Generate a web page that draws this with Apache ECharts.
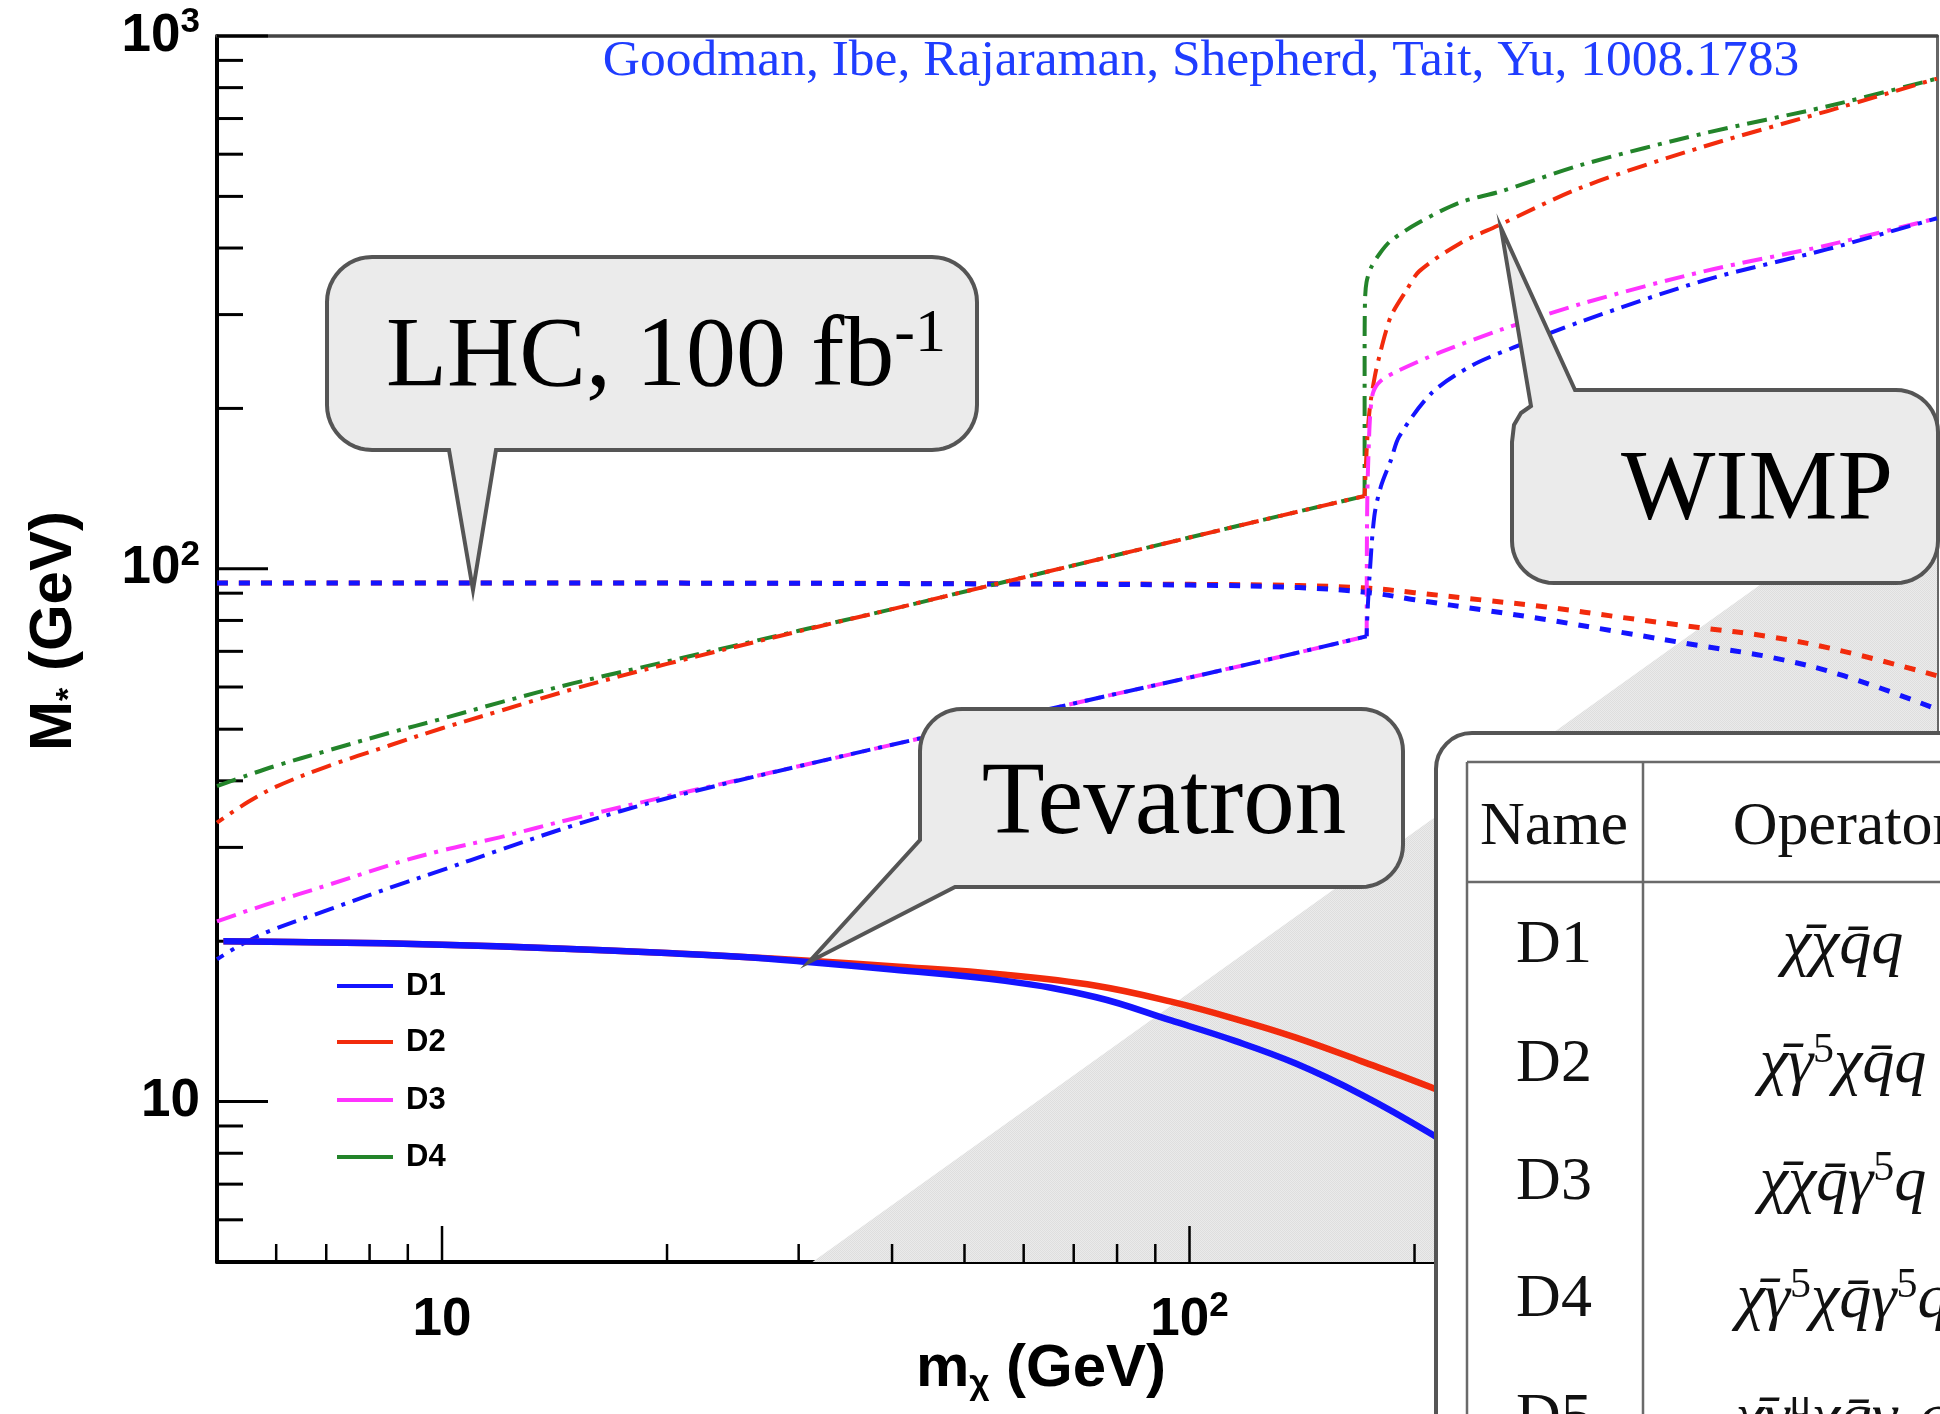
<!DOCTYPE html>
<html><head><meta charset="utf-8">
<script src="https://cdn.jsdelivr.net/npm/echarts@6/dist/echarts.min.js"></script>
<style>html,body{margin:0;padding:0;background:#fff;}#c{width:1940px;height:1414px;}</style>
</head><body><div id="c"></div>
<script>
// ---------------- data (m_chi in GeV, M* in GeV) ----------------
const X_MIN = 5, X_MAX = 1000, Y_MIN = 5, Y_MAX = 1000;

const ticksXMajor = [10, 100, 1000];
const ticksXMinor = [6,7,8,9,20,30,40,50,60,70,80,90,200,300,400,500,600,700,800,900];
const ticksYMajor = [10, 100, 1000];
const ticksYMinor = [6,7,8,9,20,30,40,50,60,70,80,90,200,300,400,500,600,700,800,900];
const tickLabelValues = [10, 100, 1000];
const tickLabelTexts = ['{b|10}', '{b|10}{s|2}', '{b|10}{s|3}'];

// EFT validity boundary (shaded region below)
const eftM = [31.3, 1000];
const eftMstar = [5, 161];

// Tevatron (solid)
const tevM = [5.1, 7, 10, 14, 20, 25, 30.6, 40, 56.7, 75, 94.5, 115, 138.5, 170, 209.6, 260];
const tevD1 = [20.0, 19.9, 19.7, 19.4, 19.0, 18.7, 18.3, 17.7, 16.85, 15.7, 14.2, 13.0, 11.8, 10.3, 8.73, 7.2];
const tevD2 = [20.0, 19.9, 19.7, 19.4, 19.0, 18.7, 18.4, 17.95, 17.3, 16.5, 15.4, 14.3, 13.2, 11.9, 10.66, 9.4];

// LHC 100 fb-1 (dashed)
const lhcM = [5, 20, 50, 100, 140, 173, 200, 250, 300, 380, 480, 600, 750, 1000];
const lhcD1 = [94, 94, 93.7, 93.2, 92.2, 90.3, 87.5, 83.5, 80.3, 75.9, 71.8, 68.2, 63, 54.5];
const lhcD2 = [94, 94, 93.8, 93.5, 93.0, 92.0, 90.2, 87.2, 84.8, 81, 77.6, 74.5, 70, 63];

// WIMP relic (dash-dot); the jump at the top-quark threshold starts at index *Jump
const wimpD4M = [5, 5.5, 6, 7, 8.5, 10, 12, 15, 20, 30, 40, 54, 70, 100, 130, 171.5, 171.5, 171.7, 172.5, 175, 180, 186, 203, 230, 261, 336, 489, 714, 1000];
const wimpD4 = [39.1, 41, 42.7, 45.5, 49.2, 52.3, 56.2, 61, 67, 76.5, 84, 93, 101.5, 114.5, 125, 137, 250, 318, 345, 368, 392, 413, 447, 487, 511, 574, 657, 738, 832];
const wimpD4Jump = 15;
const wimpD2M = [5, 5.5, 6, 7, 8.5, 10, 12, 15, 20, 30, 40, 54, 70, 100, 130, 171.5, 172.5, 173.5, 174.7, 177, 179.4, 183, 186.4, 195, 203, 230, 258, 336, 489, 714, 1000];
const wimpD2 = [33.4, 36.5, 39, 42.5, 46.6, 50.2, 54.2, 59.5, 66.3, 76.3, 84, 93, 101.5, 114.5, 125, 137, 165, 188, 206, 230, 250, 278, 300, 333, 362, 408, 440, 521, 621, 723, 832];
const wimpD2Jump = 15;
const wimpD3M = [5, 5.8, 7.1, 8.8, 10, 11.9, 15, 20, 30, 44, 60, 80, 100, 130, 172.6, 172.7, 173, 173.7, 174.5, 176, 180, 191, 216.7, 261, 336, 489, 714, 1000];
const wimpD3 = [21.8, 23.4, 25.6, 28.2, 29.6, 31.3, 34, 37.4, 42.6, 48.2, 53.2, 58.3, 62.5, 68, 74.7, 110, 140, 170, 195, 214, 225, 236, 255, 281, 315, 362, 405, 455];
const wimpD3Jump = 14;
const wimpD1M = [5, 5.35, 5.83, 7.1, 8.8, 10, 11.9, 15, 20, 30, 44, 60, 80, 100, 130, 172.6, 172.7, 174, 176.7, 180.4, 186, 190.7, 211, 239, 271, 336, 489, 714, 1000];
const wimpD1 = [18.5, 19.6, 20.8, 23, 25.6, 27.2, 29.6, 33, 37.1, 42.6, 48.2, 53.2, 58.3, 62.5, 68, 74.7, 78, 95.4, 125.5, 143, 160, 177, 214, 241, 260, 292, 348, 398, 455];
const wimpD1Jump = 15;

const legendNames = ['D1', 'D2', 'D3', 'D4'];
const tableHeader = ['Name', 'Operator'];
const tableNames = ['D1', 'D2', 'D3', 'D4', 'D5'];
const X = '\u03C7', XB = '\u03C7\u0304', QB = 'q\u0304', G = '\u03B3', MU = '\u03BC';
const tableOps = [
  '{m|' + XB + X + QB + 'q}',
  '{m|' + XB + G + '}{u|5}{m|' + X + QB + 'q}',
  '{m|' + XB + X + QB + G + '}{u|5}{m|q}',
  '{m|' + XB + G + '}{u|5}{m|' + X + QB + G + '}{u|5}{m|q}',
  '{m|' + XB + G + '}{u|' + MU + '}{m|' + X + QB + G + '}{d|' + MU + '}{m|q}'
];
const citation = 'Goodman, Ibe, Rajaraman, Shepherd, Tait, Yu, 1008.1783';

// ---------------- styles ----------------
const C_BLUE = '#1414ff', C_RED = '#f22b0c', C_MAG = '#ff33ff', C_GREEN = '#23842a';
const SANS = 'Liberation Sans', SERIF = 'Liberation Serif';
const zip = (a, b) => a.map((v, i) => [v, b[i]]);

const pc = document.createElement('canvas');
pc.width = 2; pc.height = 2;
const g2 = pc.getContext('2d');
g2.fillStyle = '#ebebeb'; g2.fillRect(0, 0, 2, 2);
g2.fillStyle = '#dedede'; g2.fillRect(0, 0, 1, 1); g2.fillRect(1, 1, 1, 1);

function curve(name, data, color, width, dash, offset, smooth) {
  return {
    type: 'line', name: name, data: data, symbol: 'none', silent: true,
    animation: false, z: 3, smooth: smooth || false,
    lineStyle: { color: color, width: width, type: dash, dashOffset: offset || 0, cap: 'butt', join: 'round' }
  };
}
function wimpCurves(name, ms, vals, jump, color, offset) {
  const d = zip(ms, vals);
  return [
    curve(name, d.slice(0, jump + 1), color, 4, [20, 8, 4, 8], offset, 0.35),
    curve(name, d.slice(jump), color, 4, [20, 8, 4, 8], offset, 0.3)
  ];
}
function tickSeries(values, axis, len, width) {
  return {
    type: 'custom', silent: true, animation: false, z: 2,
    data: values.map(v => axis === 'x' ? [v, Y_MIN] : [X_MIN, v]),
    renderItem: function (params, api) {
      const p = api.coord([api.value(0), api.value(1)]);
      const shape = axis === 'x'
        ? { x1: p[0], y1: p[1], x2: p[0], y2: p[1] - len }
        : { x1: p[0], y1: p[1], x2: p[0] + len, y2: p[1] };
      return { type: 'line', shape: shape, style: { stroke: '#000', lineWidth: width } };
    }
  };
}
function labelFmt(v) {
  const i = tickLabelValues.findIndex(t => Math.abs(Math.log10(v) - Math.log10(t)) < 1e-6);
  return i < 0 ? '' : tickLabelTexts[i];
}
const labelRich = {
  b: { fontFamily: SANS, fontWeight: 'bold', fontSize: 53, lineHeight: 62, color: '#000' },
  s: { fontFamily: SANS, fontWeight: 'bold', fontSize: 35, lineHeight: 24, verticalAlign: 'top', color: '#000' }
};

// ---------------- callout shapes ----------------
const P = Math.PI;
function arcPts(cx, cy, r, a0, a1) {
  const n = 12, pts = [];
  for (let i = 0; i <= n; i++) { const a = a0 + (a1 - a0) * i / n; pts.push([cx + r * Math.cos(a), cy + r * Math.sin(a)]); }
  return pts;
}
const lhcBox = [].concat(
  arcPts(372, 302, 45, P, 1.5 * P), arcPts(932, 302, 45, -0.5 * P, 0), arcPts(932, 405, 45, 0, 0.5 * P),
  [[496, 450], [473, 590], [449, 450]], arcPts(372, 405, 45, 0.5 * P, P));
const tevBox = [].concat(
  arcPts(962, 751, 42, P, 1.5 * P), arcPts(1361, 751, 42, -0.5 * P, 0), arcPts(1361, 845, 42, 0, 0.5 * P),
  [[955, 887], [809, 962], [920, 840]]);
const wimpBox = [].concat(
  [[1575, 390]], arcPts(1896, 432, 42, -0.5 * P, 0), arcPts(1896, 541, 42, 0, 0.5 * P), arcPts(1554, 541, 42, 0.5 * P, P),
  [[1512, 442], [1514, 425], [1521, 413], [1531, 406], [1501, 228]]);
const boxStyle = { fill: '#ebebeb', stroke: '#555', lineWidth: 4, lineJoin: 'miter', miterLimit: 20 };

const graphics = [];
graphics.push({ type: 'polygon', z: 100, shape: { points: lhcBox }, style: boxStyle });
graphics.push({ type: 'polygon', z: 100, shape: { points: tevBox }, style: boxStyle });
graphics.push({ type: 'polygon', z: 100, shape: { points: wimpBox }, style: boxStyle });
graphics.push({ type: 'text', z: 101, style: { x: 666, y: 359, align: 'center', verticalAlign: 'middle',
  text: '{a|LHC, 100 fb}{s|-1}', rich: {
    a: { fontFamily: SERIF, fontSize: 100, lineHeight: 110, fill: '#000' },
    s: { fontFamily: SERIF, fontSize: 62, lineHeight: 81, verticalAlign: 'top', fill: '#000' } } } });
graphics.push({ type: 'text', z: 101, style: { x: 1164, y: 806, align: 'center', verticalAlign: 'middle',
  text: 'Tevatron', fontFamily: SERIF, fontSize: 103, fill: '#000' } });
graphics.push({ type: 'text', z: 101, style: { x: 1757, y: 492, align: 'center', verticalAlign: 'middle',
  text: 'WIMP', fontFamily: SERIF, fontSize: 100, fill: '#000' } });
// citation
graphics.push({ type: 'text', z: 50, style: { x: 1201, y: 61, align: 'center', verticalAlign: 'middle',
  text: citation, fontFamily: SERIF, fontSize: 51.5, fill: '#1f3dff' } });
// legend
const legendColors = [C_BLUE, C_RED, C_MAG, C_GREEN];
const legendY = [986, 1042, 1100, 1157];
legendNames.forEach((n, i) => {
  graphics.push({ type: 'line', z: 60, shape: { x1: 337, y1: legendY[i], x2: 393, y2: legendY[i] }, style: { stroke: legendColors[i], lineWidth: 4 } });
  graphics.push({ type: 'text', z: 60, style: { x: 406, y: legendY[i], align: 'left', verticalAlign: 'middle', text: n,
    fontFamily: SANS, fontWeight: 'bold', fontSize: 31, fill: '#000' } });
});
// axis titles
graphics.push({ type: 'text', z: 60, style: { x: 1041, y: 1369, align: 'center', verticalAlign: 'middle',
  text: '{a|m}{d|\u03C7}{a| (GeV)}', rich: {
    a: { fontFamily: SANS, fontWeight: 'bold', fontSize: 60, lineHeight: 66, fill: '#000' },
    d: { fontFamily: SANS, fontWeight: 'bold', fontSize: 35, lineHeight: 14, verticalAlign: 'bottom', fill: '#000' } } } });
graphics.push({ type: 'text', z: 60, x: 54, y: 631, rotation: Math.PI / 2, style: { x: 0, y: 0, align: 'center', verticalAlign: 'middle',
  text: '{a|M}{d|*}{a| (GeV)}', rich: {
    a: { fontFamily: SANS, fontWeight: 'bold', fontSize: 60, lineHeight: 66, fill: '#000' },
    d: { fontFamily: SANS, fontWeight: 'bold', fontSize: 34, lineHeight: 30, verticalAlign: 'bottom', fill: '#000' } } } });
// table box
graphics.push({ type: 'rect', z: 110, shape: { x: 1436, y: 733, width: 700, height: 900, r: 36 },
  style: { fill: '#fff', stroke: '#555', lineWidth: 4 } });
const tLine = { stroke: '#6a6a6a', lineWidth: 2.5 };
graphics.push({ type: 'line', z: 111, shape: { x1: 1467, y1: 762, x2: 1467, y2: 1420 }, style: tLine });
graphics.push({ type: 'line', z: 111, shape: { x1: 1467, y1: 762, x2: 1945, y2: 762 }, style: tLine });
graphics.push({ type: 'line', z: 111, shape: { x1: 1467, y1: 882, x2: 1945, y2: 882 }, style: tLine });
graphics.push({ type: 'line', z: 111, shape: { x1: 1643, y1: 762, x2: 1643, y2: 1420 }, style: tLine });
graphics.push({ type: 'text', z: 112, style: { x: 1554, y: 828, align: 'center', verticalAlign: 'middle', text: tableHeader[0],
  fontFamily: SERIF, fontSize: 62, fill: '#111' } });
graphics.push({ type: 'text', z: 112, style: { x: 1843, y: 828, align: 'center', verticalAlign: 'middle', text: tableHeader[1],
  fontFamily: SERIF, fontSize: 62, fill: '#111' } });
const rowY = [946, 1065, 1183, 1300, 1419];
const mathRich = {
  m: { fontFamily: SERIF, fontStyle: 'italic', fontSize: 64, lineHeight: 70, fill: '#111' },
  u: { fontFamily: SERIF, fontSize: 42, lineHeight: 34, verticalAlign: 'top', fill: '#111' },
  d: { fontFamily: SERIF, fontStyle: 'italic', fontSize: 42, lineHeight: 20, verticalAlign: 'bottom', fill: '#111' }
};
tableNames.forEach((n, i) => {
  graphics.push({ type: 'text', z: 112, style: { x: 1554, y: rowY[i], align: 'center', verticalAlign: 'middle', text: n,
    fontFamily: SERIF, fontSize: 62, fill: '#111' } });
  graphics.push({ type: 'text', z: 112, style: { x: 1843, y: rowY[i], align: 'center', verticalAlign: 'middle', text: tableOps[i],
    rich: mathRich } });
});

// ---------------- chart ----------------
const chart = echarts.init(document.getElementById('c'), null, { renderer: 'canvas' });
const logAxisBase = { type: 'log', logBase: 10, min: X_MIN, max: X_MAX, splitLine: { show: false }, axisTick: { show: false } };
chart.setOption({
  animation: false,
  backgroundColor: '#fff',
  grid: { left: 217, right: 3, top: 36, bottom: 152, containLabel: false, outerBoundsMode: 'none' },
  xAxis: [
    Object.assign({}, logAxisBase, { position: 'bottom',
      axisLine: { onZero: false, lineStyle: { color: '#000', width: 4 } },
      axisLabel: { margin: 27, formatter: labelFmt, rich: labelRich, showMinLabel: false } }),
    Object.assign({}, logAxisBase, { position: 'top',
      axisLine: { onZero: false, lineStyle: { color: '#444', width: 3.5 } }, axisLabel: { show: false } })
  ],
  yAxis: [
    Object.assign({}, logAxisBase, { min: Y_MIN, max: Y_MAX, position: 'left',
      axisLine: { onZero: false, lineStyle: { color: '#000', width: 4 } },
      axisLabel: { margin: 17, formatter: labelFmt, rich: labelRich, showMinLabel: false } }),
    Object.assign({}, logAxisBase, { min: Y_MIN, max: Y_MAX, position: 'right',
      axisLine: { onZero: false, lineStyle: { color: '#666', width: 3 } }, axisLabel: { show: false } })
  ],
  series: [].concat(
    [{ type: 'line', name: 'EFT', data: zip(eftM, eftMstar), symbol: 'none', silent: true, z: 1,
      lineStyle: { width: 0 }, areaStyle: { origin: 'start', opacity: 1, color: { image: pc, repeat: 'repeat' } } },
    tickSeries(ticksXMajor, 'x', 36, 2.5),
    tickSeries(ticksXMinor, 'x', 18, 2.5),
    tickSeries(ticksYMajor, 'y', 51, 3),
    tickSeries(ticksYMinor, 'y', 26, 3),
    curve('LHC D2', zip(lhcM, lhcD2), C_RED, 5, [11, 11], 0, 0.4),
    curve('LHC D1', zip(lhcM, lhcD1), C_BLUE, 5, [11, 11], 0, 0.4)],
    wimpCurves('WIMP D4', wimpD4M, wimpD4, wimpD4Jump, C_GREEN, 0),
    wimpCurves('WIMP D2', wimpD2M, wimpD2, wimpD2Jump, C_RED, 12),
    wimpCurves('WIMP D3', wimpD3M, wimpD3, wimpD3Jump, C_MAG, 0),
    wimpCurves('WIMP D1', wimpD1M, wimpD1, wimpD1Jump, C_BLUE, 12),
    [curve('Tevatron D2', zip(tevM, tevD2), C_RED, 6.5, 'solid', 0, 0.4),
    curve('Tevatron D1', zip(tevM, tevD1), C_BLUE, 6.5, 'solid', 0, 0.4)]
  ),
  graphic: { elements: graphics }
});
</script></body></html>
